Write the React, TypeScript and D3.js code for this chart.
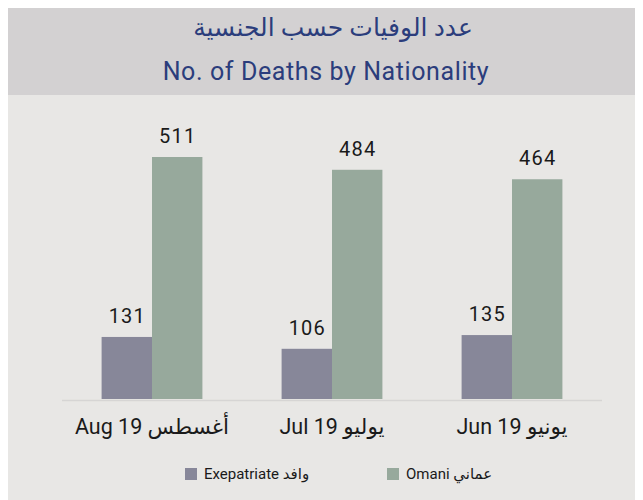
import React, { useEffect, useRef } from "react";
import * as d3 from "d3";

// values
const months = ["Aug 19 أغسطس", "Jul 19 يوليو", "Jun 19 يونيو"];
const expatriate = [131, 106, 135];
const omani = [511, 484, 464];
const seriesNames = ["Exepatriate وافد", "Omani عماني"];
const seriesKeys = ["expat", "omani"];
const colors = ["#878799", "#97a99c"];

const App = () => {
  const svgRef = useRef<SVGSVGElement>(null);

  useEffect(() => {
    const width = 635;
    const height = 492;
    const font = "Roboto, 'DejaVu Sans', sans-serif";

    const svg = d3.select(svgRef.current);
    svg.selectAll("*").remove();
    svg
      .attr("width", width)
      .attr("height", height)
      .style("display", "block");

    // page coordinates -> svg coordinates (body margin)
    const g = svg.append("g").attr("transform", "translate(-8,-8)");

    g.append("rect")
      .attr("x", 8).attr("y", 8)
      .attr("width", width).attr("height", height)
      .attr("fill", "#e8e7e5");

    g.append("rect")
      .attr("x", 8).attr("y", 8)
      .attr("width", width).attr("height", 87)
      .attr("fill", "#d3d1d2");

    g.append("text")
      .attr("x", 333).attr("y", 36)
      .attr("text-anchor", "middle")
      .style("font", `25px ${font}`)
      .attr("fill", "#2b3d7c")
      .text("عدد الوفيات حسب الجنسية");

    g.append("text")
      .attr("x", 326).attr("y", 80)
      .attr("text-anchor", "middle")
      .style("font", `25px ${font}`)
      .style("letter-spacing", "0.6px")
      .attr("fill", "#2b3d7c")
      .text("No. of Deaths by Nationality");

    const data = months.map((m, i) => ({
      month: m,
      expat: expatriate[i],
      omani: omani[i],
    }));

    const x0 = d3
      .scaleBand()
      .domain(months)
      .range([62, 602])
      .paddingInner(0.44)
      .paddingOuter(0.22);

    const x1 = d3
      .scaleBand()
      .domain(seriesKeys)
      .range([0, x0.bandwidth()]);

    const y = d3.scaleLinear().domain([0, 511]).range([399, 157]);

    const color = d3.scaleOrdinal<string, string>().domain(seriesKeys).range(colors);

    const groups = g
      .append("g")
      .selectAll("g")
      .data(data)
      .join("g")
      .attr("transform", (d) => `translate(${x0(d.month)},0)`);

    const bars = groups
      .selectAll("g")
      .data((d: any) => seriesKeys.map((k) => ({ key: k, value: d[k] })))
      .join("g");

    bars
      .append("rect")
      .attr("x", (d) => x1(d.key)!)
      .attr("y", (d) => y(d.value))
      .attr("width", x1.bandwidth())
      .attr("height", (d) => y(0) - y(d.value))
      .attr("fill", (d) => color(d.key));

    bars
      .append("text")
      .attr("x", (d) => x1(d.key)! + x1.bandwidth() / 2 + 0.5)
      .attr("y", (d) => y(d.value) - 14)
      .attr("text-anchor", "middle")
      .style("font", `20px ${font}`)
      .style("letter-spacing", "1.2px")
      .attr("fill", "#1a1a1a")
      .text((d) => d.value);

    // baseline
    g.append("line")
      .attr("x1", 62).attr("x2", 602)
      .attr("y1", 400.5).attr("y2", 400.5)
      .attr("stroke", "#d6d5d4")
      .attr("stroke-width", 1.5);

    g.append("g")
      .selectAll("text")
      .data(months)
      .join("text")
      .attr("x", (d) => x0(d)! + x0.bandwidth() / 2)
      .attr("y", 434)
      .attr("text-anchor", "middle")
      .attr("direction", "ltr")
      .style("font", `21.5px ${font}`)
      .attr("fill", "#1a1a1a")
      .text((d) => d);

    // legend
    const legendX = [185, 387];
    const legend = g
      .append("g")
      .selectAll("g")
      .data(seriesNames)
      .join("g")
      .attr("transform", (d, i) => `translate(${legendX[i]},468)`);

    legend
      .append("rect")
      .attr("width", 12)
      .attr("height", 12)
      .attr("fill", (d, i) => colors[i]);

    legend
      .append("text")
      .attr("x", 19)
      .attr("y", 11)
      .attr("direction", "ltr")
      .style("font", `15px ${font}`)
      .attr("fill", "#1a1a1a")
      .text((d) => d);
  }, []);

  return <svg ref={svgRef}></svg>;
};

export default App;
